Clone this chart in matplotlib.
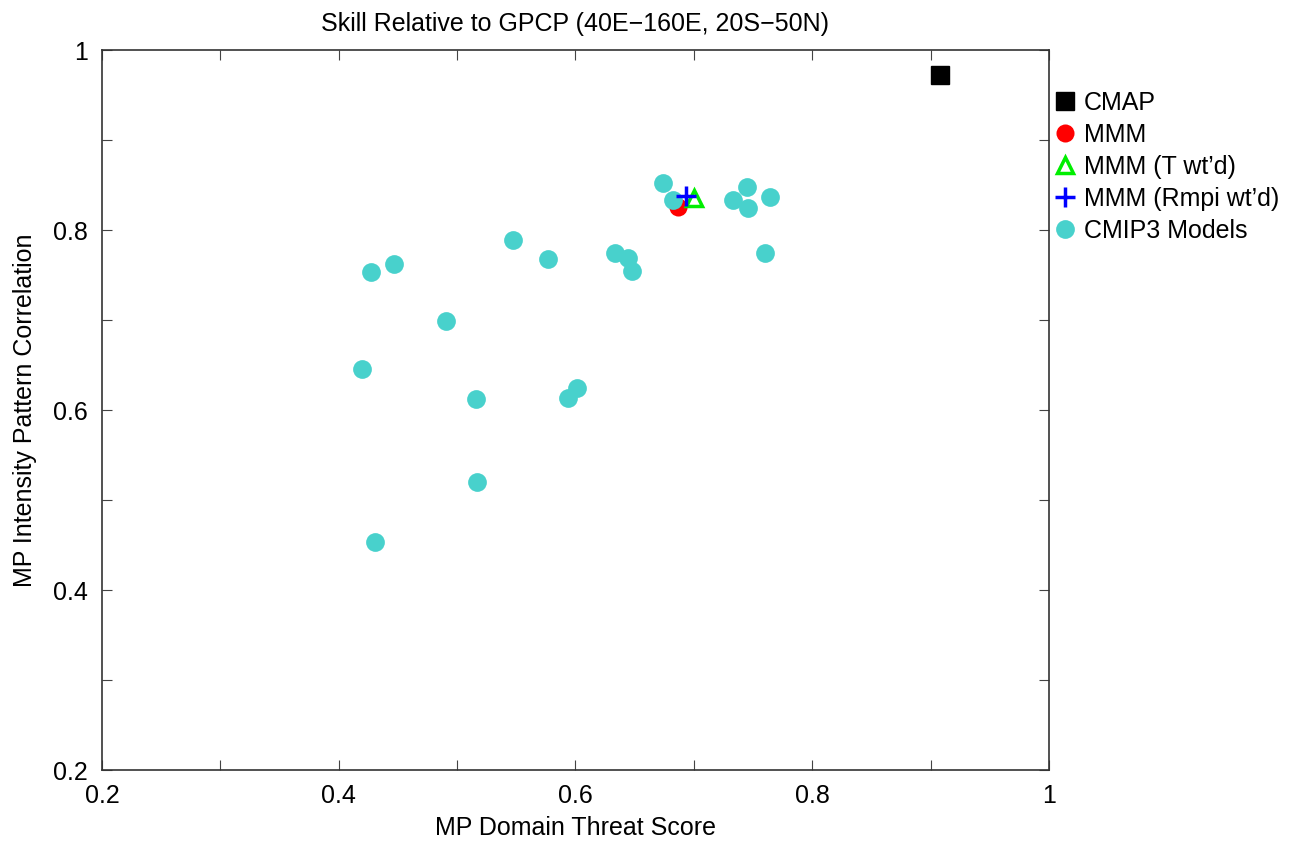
import matplotlib
matplotlib.use("Agg")
import matplotlib.pyplot as plt
from matplotlib.ticker import MultipleLocator, FuncFormatter

plt.rcParams['font.family'] = ['Liberation Sans', 'DejaVu Sans']

# ------------------------
# Data
# ------------------------

cmap_x = [0.908]
cmap_y = [0.972]

mmm_x = [0.687]
mmm_y = [0.826]

mmm_t_x = [0.700]
mmm_t_y = [0.836]

mmm_rmpi_x = [0.693]
mmm_rmpi_y = [0.838]

cmip3_x = [0.674, 0.682, 0.733, 0.745, 0.746, 0.764, 0.760,
           0.547, 0.577, 0.633, 0.644, 0.648,
           0.427, 0.447, 0.491, 0.420, 0.516, 0.601, 0.594,
           0.517, 0.431]
cmip3_y = [0.852, 0.833, 0.833, 0.848, 0.825, 0.837, 0.774,
           0.789, 0.768, 0.774, 0.769, 0.755,
           0.753, 0.762, 0.699, 0.646, 0.612, 0.624, 0.613,
           0.520, 0.453]

# ------------------------
# Plot
# ------------------------

fig = plt.figure(figsize=(13.01, 8.41), dpi=100)
ax = fig.add_axes([0.0784, 0.0844, 0.7279, 0.8561])

h_cmap, = ax.plot(cmap_x, cmap_y, ls="none", marker="s", ms=13, color="black",
                  label="CMAP", zorder=3)
h_mmm, = ax.plot(mmm_x, mmm_y, ls="none", marker="o", ms=13, color="#ff0000",
                 mec="none", label="MMM", zorder=2)
h_cmip, = ax.plot(cmip3_x, cmip3_y, ls="none", marker="o", ms=13.5, color="#48D1CC",
                  mec="none", label="CMIP3 Models", zorder=3)
h_t, = ax.plot(mmm_t_x, mmm_t_y, ls="none", marker="^", ms=12, mfc="none",
               mec="#00ee00", mew=2.5, label="MMM (T wt\u2019d)", zorder=4)
h_r, = ax.plot(mmm_rmpi_x, mmm_rmpi_y, ls="none", marker="+", ms=15, color="#0000ff",
               mew=2.5, label="MMM (Rmpi wt\u2019d)", zorder=5)

ax.set_xlim(0.2, 1.0)
ax.set_ylim(0.2, 1.0)

fmt = FuncFormatter(lambda v, p: f"{v:g}")
ax.xaxis.set_major_locator(MultipleLocator(0.2))
ax.yaxis.set_major_locator(MultipleLocator(0.2))
ax.xaxis.set_minor_locator(MultipleLocator(0.1))
ax.yaxis.set_minor_locator(MultipleLocator(0.1))
ax.xaxis.set_major_formatter(fmt)
ax.yaxis.set_major_formatter(fmt)
ax.tick_params(which="both", direction="in", top=True, right=True,
               length=7, width=0.8, color="#444444", labelsize=18)
ax.tick_params(axis="x", pad=10)
ax.tick_params(axis="y", pad=10)

for spine in ax.spines.values():
    spine.set_color("#333333")
    spine.set_linewidth(1.2)

ax.set_xlabel("MP Domain Threat Score", fontsize=18, labelpad=6)
ax.set_ylabel("MP Intensity Pattern Correlation", fontsize=18, labelpad=12)
ax.set_title("Skill Relative to GPCP (40E\u2212160E, 20S\u221250N)", fontsize=18, pad=14)

handles = [h_cmap, h_mmm, h_t, h_r, h_cmip]
fig.legend(handles, [h.get_label() for h in handles],
           loc="upper left", bbox_to_anchor=(0.809, 0.892), frameon=False,
           fontsize=18, handlelength=1.0, handletextpad=0.25,
           labelspacing=0.32, borderpad=0, borderaxespad=0, markerscale=1.0)

fig.savefig("out.png", dpi=100)
